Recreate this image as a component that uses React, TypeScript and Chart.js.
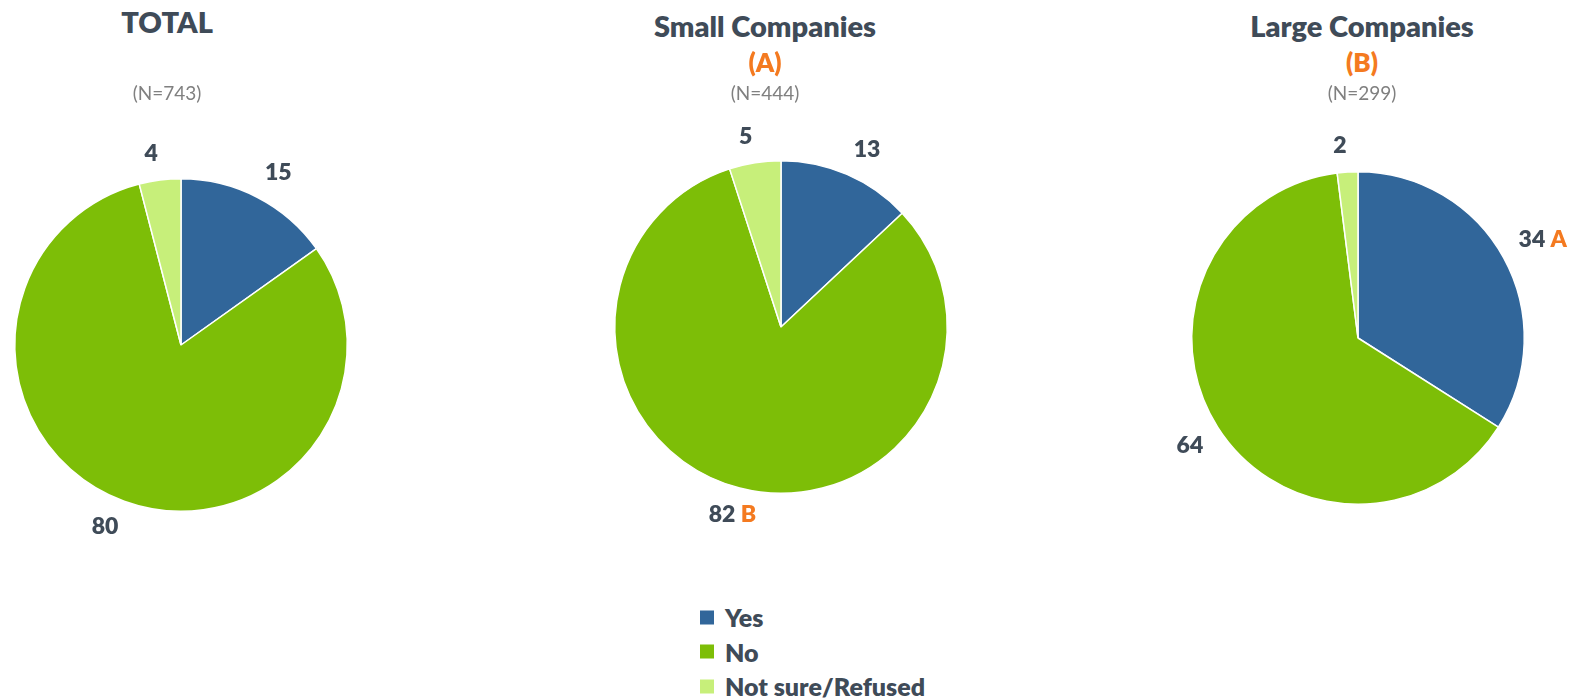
import React, { useEffect, useRef } from "react";
import { Chart, registerables } from "chart.js";

Chart.register(...registerables);

const categories = ["Yes", "No", "Not sure/Refused"];
const colors = ["#31669A", "#7DBE07", "#C7EF7A"];

const totalValues = [15, 80, 4];
const smallValues = [13, 82, 5];
const largeValues = [34, 64, 2];

const totalSig = ["", "", ""];
const smallSig = ["", "B", ""];
const largeSig = ["A", "", ""];

const titles = ["TOTAL", "Small Companies", "Large Companies"];
const groupLetters = ["", "(A)", "(B)"];
const baseLabels = ["(N=743)", "(N=444)", "(N=299)"];

const FONT = "Lato, 'Open Sans', sans-serif";
const DARK = "#3F4B58";
const ORANGE = "#F47A20";
const GREY = "#808080";
const LABEL_SIZE = 23;

const labelPlugin = {
  id: "pieLabels",
  afterDatasetsDraw(chart: any, _args: any, opts: any) {
    const ctx = chart.ctx;
    const meta = chart.getDatasetMeta(0);
    const data = chart.data.datasets[0].data;
    const sig: string[] = opts.sig || [];
    ctx.save();
    ctx.textBaseline = "middle";
    ctx.font = `800 ${LABEL_SIZE}px ${FONT}`;
    meta.data.forEach((arc: any, i: number) => {
      const p = arc.getProps(["x", "y", "startAngle", "endAngle", "outerRadius"], true);
      const mid = (p.startAngle + p.endAngle) / 2;
      const dx = Math.cos(mid);
      const dy = Math.sin(mid);
      const d = p.outerRadius + 17;
      const main = String(data[i]);
      const w1 = ctx.measureText(main).width;
      const hw = w1 / 2;
      const hh = LABEL_SIZE * 0.42;
      const cx = p.x + dx * d + hw * Math.sign(dx);
      const cy = p.y + dy * d + hh * Math.sign(dy);
      const start = cx - hw;
      ctx.textAlign = "left";
      ctx.fillStyle = DARK;
      ctx.fillText(main, start, cy);
      if (sig[i]) {
        ctx.fillStyle = ORANGE;
        ctx.fillText(" " + sig[i], start + w1, cy);
      }
    });
    ctx.restore();
  },
};

const SIZE = 500;
const RADIUS = 167;

function PieChart({ values, sig, cx, cy }: { values: number[]; sig: string[]; cx: number; cy: number }) {
  const ref = useRef<HTMLCanvasElement | null>(null);
  useEffect(() => {
    if (!ref.current) return;
    const chart = new Chart(ref.current, {
      type: "pie",
      data: {
        labels: categories,
        datasets: [
          {
            data: values,
            backgroundColor: colors,
            borderColor: "#FFFFFF",
            borderWidth: 1.5,
            hoverOffset: 0,
          },
        ],
      },
      options: {
        responsive: false,
        animation: false,
        layout: { padding: SIZE / 2 - RADIUS },
        plugins: {
          legend: { display: false },
          tooltip: { enabled: false },
          pieLabels: { sig },
        } as any,
      },
      plugins: [labelPlugin],
    });
    return () => chart.destroy();
  }, []);
  return (
    <canvas
      ref={ref}
      width={SIZE}
      height={SIZE}
      style={{ position: "absolute", left: cx - SIZE / 2, top: cy - SIZE / 2, width: SIZE, height: SIZE }}
    />
  );
}

function Header({ idx, x, titleY }: { idx: number; x: number; titleY: number }) {
  const common: React.CSSProperties = {
    position: "absolute",
    left: x,
    transform: "translate(-50%, -50%)",
    whiteSpace: "nowrap",
    lineHeight: 1,
    fontFamily: FONT,
  };
  return (
    <>
      <div style={{ ...common, top: titleY, fontSize: 29, fontWeight: 800, color: DARK }}>{titles[idx]}</div>
      {groupLetters[idx] ? (
        <div style={{ ...common, top: 62, fontSize: 26, fontWeight: 800, color: ORANGE }}>{groupLetters[idx]}</div>
      ) : null}
      <div style={{ ...common, top: 92, fontSize: 19, color: GREY }}>{baseLabels[idx]}</div>
    </>
  );
}

export default function App() {
  const legendRows = categories.map((c, i) => (
    <div
      key={c}
      style={{ position: "absolute", left: 700, top: 617 + i * 34.5, transform: "translateY(-50%)", display: "flex", alignItems: "center" }}
    >
      <div style={{ width: 14, height: 14, background: colors[i], marginRight: 11 }} />
      <div style={{ fontFamily: FONT, fontWeight: 800, fontSize: 25, color: DARK, lineHeight: 1, whiteSpace: "nowrap" }}>{c}</div>
    </div>
  ));
  return (
    <div style={{ position: "fixed", left: 0, top: 0, width: 1576, height: 699, overflow: "hidden", background: "#FFFFFF" }}>
      <PieChart values={totalValues} sig={totalSig} cx={181} cy={345} />
      <PieChart values={smallValues} sig={smallSig} cx={781} cy={327} />
      <PieChart values={largeValues} sig={largeSig} cx={1358} cy={338} />
      <Header idx={0} x={167} titleY={21} />
      <Header idx={1} x={765} titleY={25} />
      <Header idx={2} x={1362} titleY={25} />
      {legendRows}
    </div>
  );
}
